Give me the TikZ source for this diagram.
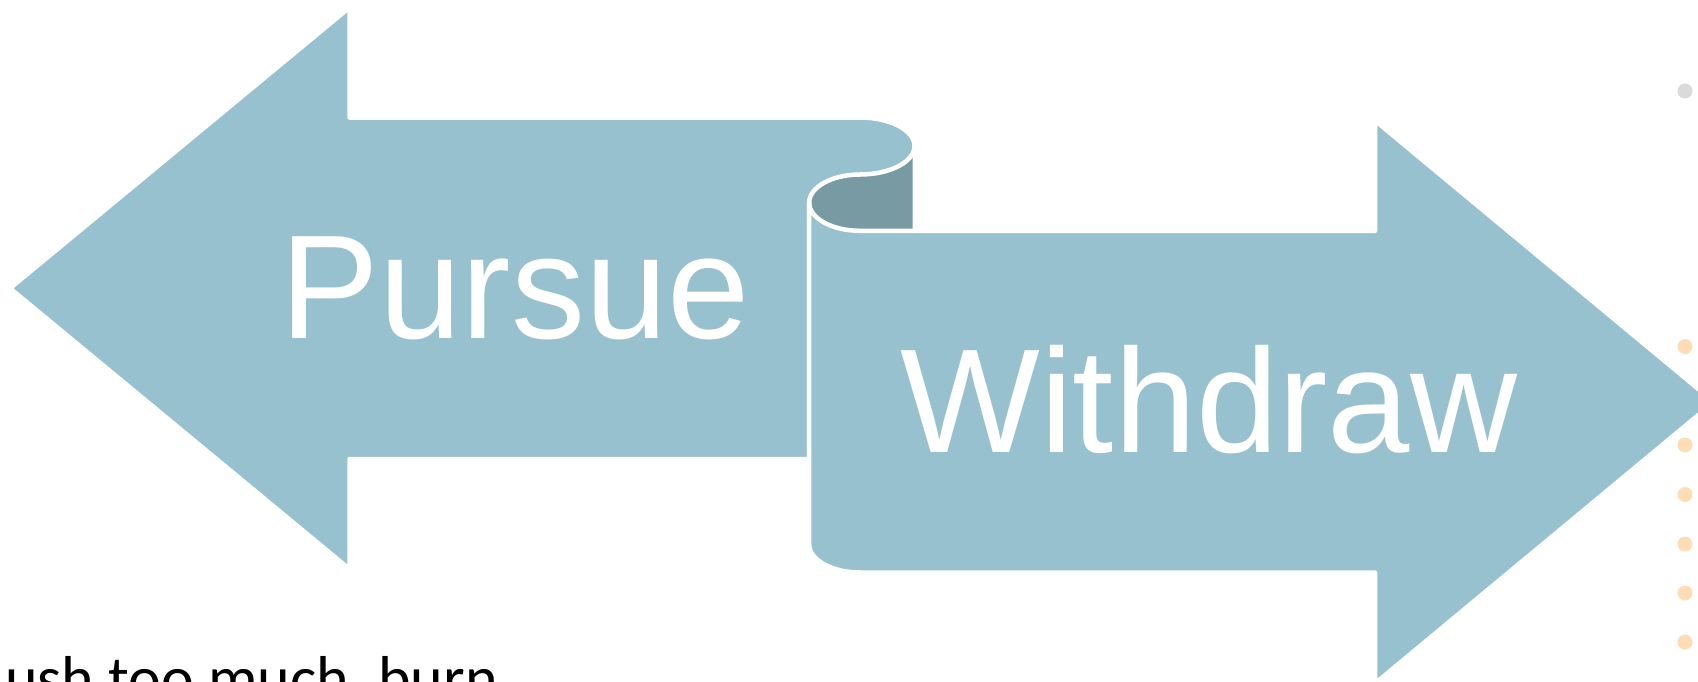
\documentclass[tikz,border=0pt]{standalone}
\usepackage{fontspec}
\setmainfont{Liberation Sans}
\newfontfamily\carlfont{Carlito}
\definecolor{ribbon}{RGB}{151,193,206}
\definecolor{ribbondark}{RGB}{120,154,163}
\definecolor{dotorange}{RGB}{255,221,180}
\definecolor{dotgray}{RGB}{218,218,218}
\begin{document}
\begin{tikzpicture}[x=1pt,y=-1pt,
  ribbonshape/.style={fill=ribbon,draw=white,line width=4.5pt,line join=round},
  arrowlabel/.style={text=white,font=\fontsize{148}{148}\selectfont,inner sep=0pt,anchor=base},
  dotmark/.style={circle,inner sep=0pt,minimum size=15pt}]
\useasboundingbox (0,0) rectangle (1698,681);
% dots
\node[dotmark,fill=dotgray] (g1) at (1685,91) {};
\foreach \yy [count=\i] in {346.5,445,494.5,544,593,642}
  \node[dotmark,fill=dotorange] (o\i) at (1685,\yy) {};
% dark back of the twist
\fill[ribbondark] (809.2,202.65) .. controls (809.2,187.1) and (831.94,174.5) .. (860,174.5)
  .. controls (890.1,174.5) and (912.7,161.74) .. (912.7,146) -- (912.7,230.8) -- (860,230.8)
  .. controls (831.94,230.8) and (809.2,218.2) .. (809.2,202.65) -- cycle;
% left arrow
\path[ribbonshape] (10,288.3) -- (349.5,7.5) -- (349.5,117.5) -- (860,117.5)
  .. controls (890.1,117.5) and (914.5,130.26) .. (914.5,146)
  .. controls (914.5,161.74) and (890.1,174.5) .. (860,174.5)
  .. controls (831.94,174.5) and (809.2,187.1) .. (809.2,202.65)
  -- (809.2,459) -- (349.5,459) -- (349.5,569.1) -- cycle;
% right arrow
\path[ribbonshape] (809.2,202.65) -- (809.2,544.35)
  .. controls (809.2,559.9) and (831.94,572.5) .. (860,572.5)
  -- (1375,572.5) -- (1375,683.5) -- (1714,402) -- (1375,120.5) -- (1375,230.8) -- (860,230.8)
  .. controls (831.94,230.8) and (809.2,218.2) .. (809.2,202.65) -- cycle;
% labels
\node[arrowlabel] (pursue) at (515.3,338) {Pursue};
\node[arrowlabel] (withdraw) at (1208.7,452) {Withdraw};
\node[inner sep=0pt,anchor=base west,font=\carlfont\fontsize{62}{62}\selectfont] (note) at (5,699) {ush too much, burn};
\end{tikzpicture}
\end{document}
